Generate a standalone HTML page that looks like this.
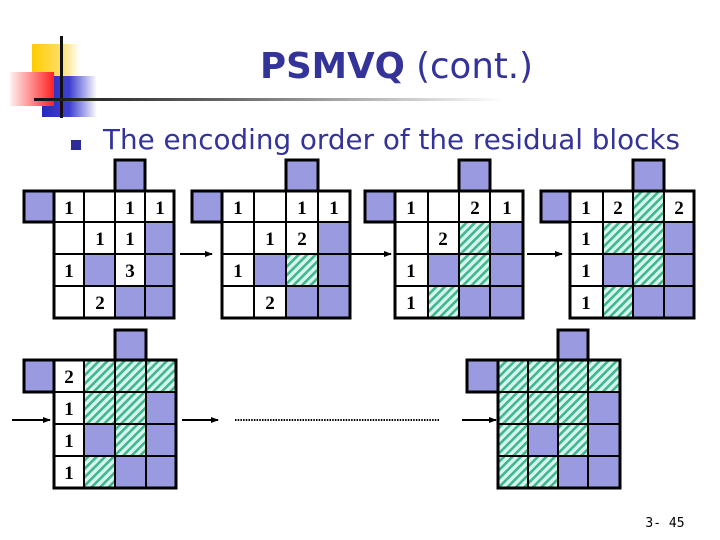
<!DOCTYPE html>
<html><head><meta charset="utf-8"><style>
html,body{margin:0;padding:0;background:#fff;}
svg{display:block;}
</style></head><body>
<svg width="720" height="540" viewBox="0 0 720 540" xmlns="http://www.w3.org/2000/svg">
<defs>
<pattern id="h" patternUnits="userSpaceOnUse" width="6" height="6" patternTransform="rotate(45)">
<rect width="6" height="6" fill="#d8f7ec"/>
<rect width="2.6" height="6" fill="#3fb592"/>
</pattern>
<linearGradient id="lg" x1="0" x2="1"><stop offset="0" stop-color="#111"/><stop offset="0.4" stop-color="#666"/><stop offset="1" stop-color="#fff"/></linearGradient>
<linearGradient id="yg" x1="0" x2="1"><stop offset="0" stop-color="#ffcc00"/><stop offset="0.6" stop-color="#ffdd66"/><stop offset="1" stop-color="#fff"/></linearGradient>
<linearGradient id="rg" x1="1" x2="0"><stop offset="0" stop-color="#ff2020"/><stop offset="1" stop-color="#fff0f0"/></linearGradient>
<linearGradient id="bg" x1="0" x2="1"><stop offset="0" stop-color="#2828c0"/><stop offset="0.5" stop-color="#4040d0"/><stop offset="1" stop-color="#fff"/></linearGradient>
<marker id="ar" markerWidth="8" markerHeight="8" refX="7" refY="4" orient="auto" markerUnits="userSpaceOnUse"><path d="M0,1 L8,4 L0,7 Z" fill="#000"/></marker>
</defs>
<!-- logo -->
<rect x="32" y="44" width="48" height="40" fill="url(#yg)"/>
<rect x="42" y="76" width="55" height="41" fill="url(#bg)"/>
<rect x="10" y="72" width="44" height="34" fill="url(#rg)"/>
<rect x="60" y="36" width="3" height="82" fill="#111"/>
<rect x="34" y="98" width="470" height="3" fill="url(#lg)"/>
<text x="260" y="78" textLength="273" lengthAdjust="spacingAndGlyphs" font-family="'DejaVu Sans','Liberation Sans',sans-serif" font-size="36" fill="#333399"><tspan font-weight="bold">PSMVQ</tspan> (cont.)</text>
<rect x="71" y="140" width="10" height="10" fill="#2c2c99"/>
<text x="103" y="149" textLength="577" lengthAdjust="spacingAndGlyphs" font-family="'DejaVu Sans','Liberation Sans',sans-serif" font-size="28" fill="#333399">The encoding order of the residual blocks</text>

<g stroke="#000" stroke-width="2" font-family="'Liberation Serif',serif" font-weight="bold" font-size="19" text-anchor="middle">
<!-- G1 -->
<rect x="24" y="191" width="30" height="31" fill="#9a9ae0" stroke-width="3"/>
<rect x="115" y="160" width="30" height="31" fill="#9a9ae0" stroke-width="3"/>
<rect x="54" y="191" width="120" height="127" fill="#fff" stroke-width="3"/>
<rect x="145" y="222" width="29" height="32" fill="#9a9ae0"/>
<rect x="84" y="254" width="31" height="32" fill="#9a9ae0"/>
<rect x="145" y="254" width="29" height="32" fill="#9a9ae0"/>
<rect x="115" y="286" width="30" height="32" fill="#9a9ae0"/>
<rect x="145" y="286" width="29" height="32" fill="#9a9ae0"/>
<path d="M84 191V318M115 191V318M145 191V318M54 222H174M54 254H174M54 286H174" fill="none"/>
<rect x="54" y="191" width="120" height="127" fill="none" stroke-width="3"/>
<!-- G2 -->
<rect x="192" y="191" width="30" height="31" fill="#9a9ae0" stroke-width="3"/>
<rect x="286" y="160" width="32" height="31" fill="#9a9ae0" stroke-width="3"/>
<rect x="222" y="191" width="128" height="127" fill="#fff" stroke-width="3"/>
<rect x="318" y="222" width="32" height="32" fill="#9a9ae0"/>
<rect x="254" y="254" width="32" height="32" fill="#9a9ae0"/>
<rect x="286" y="254" width="32" height="32" fill="url(#h)"/>
<rect x="318" y="254" width="32" height="32" fill="#9a9ae0"/>
<rect x="286" y="286" width="32" height="32" fill="#9a9ae0"/>
<rect x="318" y="286" width="32" height="32" fill="#9a9ae0"/>
<path d="M254 191V318M286 191V318M318 191V318M222 222H350M222 254H350M222 286H350" fill="none"/>
<rect x="222" y="191" width="128" height="127" fill="none" stroke-width="3"/>
<!-- G3 -->
<rect x="365" y="191" width="30" height="31" fill="#9a9ae0" stroke-width="3"/>
<rect x="459" y="160" width="31" height="31" fill="#9a9ae0" stroke-width="3"/>
<rect x="395" y="191" width="128" height="127" fill="#fff" stroke-width="3"/>
<rect x="459" y="222" width="31" height="32" fill="url(#h)"/>
<rect x="490" y="222" width="33" height="32" fill="#9a9ae0"/>
<rect x="428" y="254" width="31" height="32" fill="#9a9ae0"/>
<rect x="459" y="254" width="31" height="32" fill="url(#h)"/>
<rect x="490" y="254" width="33" height="32" fill="#9a9ae0"/>
<rect x="428" y="286" width="31" height="32" fill="url(#h)"/>
<rect x="459" y="286" width="31" height="32" fill="#9a9ae0"/>
<rect x="490" y="286" width="33" height="32" fill="#9a9ae0"/>
<path d="M428 191V318M459 191V318M490 191V318M395 222H523M395 254H523M395 286H523" fill="none"/>
<rect x="395" y="191" width="128" height="127" fill="none" stroke-width="3"/>
<!-- G4 -->
<rect x="541" y="191" width="29" height="31" fill="#9a9ae0" stroke-width="3"/>
<rect x="633" y="160" width="31" height="31" fill="#9a9ae0" stroke-width="3"/>
<rect x="570" y="191" width="124" height="127" fill="#fff" stroke-width="3"/>
<rect x="633" y="191" width="31" height="31" fill="url(#h)"/>
<rect x="603" y="222" width="30" height="32" fill="url(#h)"/>
<rect x="633" y="222" width="31" height="32" fill="url(#h)"/>
<rect x="664" y="222" width="30" height="32" fill="#9a9ae0"/>
<rect x="603" y="254" width="30" height="32" fill="#9a9ae0"/>
<rect x="633" y="254" width="31" height="32" fill="url(#h)"/>
<rect x="664" y="254" width="30" height="32" fill="#9a9ae0"/>
<rect x="603" y="286" width="30" height="32" fill="url(#h)"/>
<rect x="633" y="286" width="31" height="32" fill="#9a9ae0"/>
<rect x="664" y="286" width="30" height="32" fill="#9a9ae0"/>
<path d="M603 191V318M633 191V318M664 191V318M570 222H694M570 254H694M570 286H694" fill="none"/>
<rect x="570" y="191" width="124" height="127" fill="none" stroke-width="3"/>
<!-- G5 -->
<rect x="24" y="360" width="30" height="32" fill="#9a9ae0" stroke-width="3"/>
<rect x="115" y="330" width="31" height="30" fill="#9a9ae0" stroke-width="3"/>
<rect x="54" y="360" width="122" height="128" fill="#fff" stroke-width="3"/>
<rect x="84" y="360" width="31" height="32" fill="url(#h)"/>
<rect x="115" y="360" width="31" height="32" fill="url(#h)"/>
<rect x="146" y="360" width="30" height="32" fill="url(#h)"/>
<rect x="84" y="392" width="31" height="32" fill="url(#h)"/>
<rect x="115" y="392" width="31" height="32" fill="url(#h)"/>
<rect x="146" y="392" width="30" height="32" fill="#9a9ae0"/>
<rect x="84" y="424" width="31" height="32" fill="#9a9ae0"/>
<rect x="115" y="424" width="31" height="32" fill="url(#h)"/>
<rect x="146" y="424" width="30" height="32" fill="#9a9ae0"/>
<rect x="84" y="456" width="31" height="32" fill="url(#h)"/>
<rect x="115" y="456" width="31" height="32" fill="#9a9ae0"/>
<rect x="146" y="456" width="30" height="32" fill="#9a9ae0"/>
<path d="M84 360V488M115 360V488M146 360V488M54 392H176M54 424H176M54 456H176" fill="none"/>
<rect x="54" y="360" width="122" height="128" fill="none" stroke-width="3"/>
<!-- G6 -->
<rect x="467" y="360" width="31" height="32" fill="#9a9ae0" stroke-width="3"/>
<rect x="558" y="330" width="30" height="30" fill="#9a9ae0" stroke-width="3"/>
<rect x="498" y="360" width="122" height="128" fill="url(#h)" stroke-width="3"/>
<rect x="588" y="392" width="32" height="32" fill="#9a9ae0"/>
<rect x="528" y="424" width="30" height="32" fill="#9a9ae0"/>
<rect x="588" y="424" width="32" height="32" fill="#9a9ae0"/>
<rect x="558" y="456" width="30" height="32" fill="#9a9ae0"/>
<rect x="588" y="456" width="32" height="32" fill="#9a9ae0"/>
<path d="M528 360V488M558 360V488M588 360V488M498 392H620M498 424H620M498 456H620" fill="none"/>
<rect x="498" y="360" width="122" height="128" fill="none" stroke-width="3"/>

<!-- arrows -->
<line x1="180" y1="254" x2="212" y2="254" stroke-width="2" marker-end="url(#ar)"/>
<line x1="350" y1="254" x2="391" y2="254" stroke-width="2" marker-end="url(#ar)"/>
<line x1="527" y1="254" x2="562" y2="254" stroke-width="2" marker-end="url(#ar)"/>
<line x1="12" y1="420" x2="50" y2="420" stroke-width="2" marker-end="url(#ar)"/>
<line x1="182" y1="420" x2="218" y2="420" stroke-width="2" marker-end="url(#ar)"/>
<line x1="462" y1="420" x2="496" y2="420" stroke-width="2" marker-end="url(#ar)"/>
<line x1="235" y1="420" x2="440" y2="420" stroke-width="2" stroke-dasharray="1.5,1.2"/>

<g stroke="none" fill="#000">
<text x="69" y="214">1</text><text x="130" y="214">1</text><text x="160" y="214">1</text>
<text x="100" y="245">1</text><text x="130" y="245">1</text>
<text x="69" y="277">1</text><text x="130" y="277">3</text>
<text x="100" y="309">2</text>
<text x="238" y="214">1</text><text x="302" y="214">1</text><text x="334" y="214">1</text>
<text x="270" y="245">1</text><text x="302" y="245">2</text>
<text x="238" y="277">1</text>
<text x="270" y="309">2</text>
<text x="411" y="214">1</text><text x="475" y="214">2</text><text x="507" y="214">1</text>
<text x="443" y="245">2</text>
<text x="411" y="277">1</text>
<text x="411" y="309">1</text>
<text x="586" y="214">1</text><text x="618" y="214">2</text><text x="679" y="214">2</text>
<text x="586" y="245">1</text>
<text x="586" y="277">1</text>
<text x="586" y="309">1</text>
<text x="69" y="383">2</text><text x="69" y="415">1</text><text x="69" y="447">1</text><text x="69" y="479">1</text>
</g>
</g>
<text x="665" y="527" text-anchor="middle" font-family="'DejaVu Sans Mono','Liberation Mono',monospace" font-size="13" fill="#000">3- 45</text>
</svg>
</body></html>
